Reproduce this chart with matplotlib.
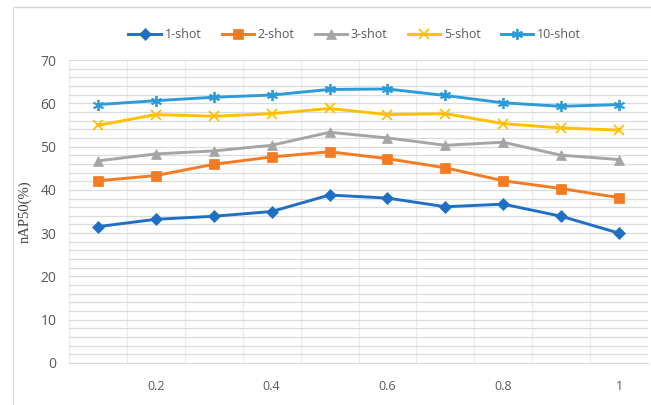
import numpy as np
import matplotlib.pyplot as plt
from matplotlib.patches import Rectangle
from matplotlib.ticker import MultipleLocator

ratios = ["0.1", "0.2", "0.3", "0.4", "0.5", "0.6", "0.7", "0.8", "0.9", "1"]
shot_1 = [31.5, 33.2, 33.9, 35.0, 38.8, 38.1, 36.1, 36.7, 33.9, 30.0]
shot_2 = [42.1, 43.3, 45.9, 47.6, 48.8, 47.2, 45.1, 42.1, 40.3, 38.2]
shot_3 = [46.7, 48.3, 49.0, 50.3, 53.3, 52.0, 50.3, 51.0, 48.0, 47.0]
shot_5 = [54.9, 57.4, 57.0, 57.6, 58.8, 57.4, 57.6, 55.3, 54.3, 53.8]
shot_10 = [59.7, 60.6, 61.4, 61.9, 63.2, 63.3, 61.8, 60.1, 59.3, 59.7]

series = [
    ("1-shot", shot_1, "#1F70C4", "D", 6),
    ("2-shot", shot_2, "#F47B22", "s", 7),
    ("3-shot", shot_3, "#A5A5A5", "^", 7),
    ("5-shot", shot_5, "#FFC000", "x", 7),
    ("10-shot", shot_10, "#2E9BD9", (6, 2, 0), 8),
]

fig = plt.figure(figsize=(6.51, 4.05), dpi=100)
fig.patches.append(Rectangle((13 / 651, -0.05), 1.0, 1 - 7 / 405 + 0.05,
                             transform=fig.transFigure, fill=False,
                             edgecolor="#D9D9D9", linewidth=1.0))
ax = fig.add_axes([69 / 651, 42 / 405, 579 / 651, 303 / 405])

x = np.arange(len(ratios))
for name, vals, col, mk, ms in series:
    ax.plot(x, vals, color=col, linewidth=2.1, marker=mk, markersize=ms,
            markeredgewidth=1.3 if mk in ("x", (6, 2, 0)) else 0.5,
            markeredgecolor=col, label=name, zorder=3)

ax.set_xlim(-0.5, len(ratios) - 0.5)
ax.set_ylim(0, 70)
ax.yaxis.set_major_locator(MultipleLocator(10))
ax.yaxis.set_minor_locator(MultipleLocator(2))
ax.set_xticks(x[1::2])
ax.set_xticklabels(ratios[1::2])
ax.set_xticks(np.arange(-0.5, len(ratios)), minor=True)

ax.grid(axis="y", which="both", color="#DCDCDC", linewidth=0.9)
ax.grid(axis="x", which="minor", color="#EBEBEB", linewidth=0.9)
ax.set_axisbelow(True)
for s in ["top", "right", "left"]:
    ax.spines[s].set_visible(False)
ax.spines["bottom"].set_color("#D9D9D9")
ax.tick_params(which="both", length=0)
ax.tick_params(axis="y", labelsize=10, labelcolor="#595959", pad=9)
ax.tick_params(axis="x", labelsize=9, labelcolor="#595959", pad=12)
for lab in ax.get_xticklabels() + ax.get_yticklabels():
    lab.set_fontfamily("Open Sans")

ax.set_ylabel("nAP50(%)", fontfamily="Liberation Serif", fontsize=10.5,
              color="#404040", labelpad=6)

leg = fig.legend(loc="center", bbox_to_anchor=(0.545, 1 - 35 / 405), ncol=5,
                 frameon=False, handlelength=2.6, columnspacing=1.6,
                 handletextpad=0.3, prop={"family": "Open Sans", "size": 9})
for t in leg.get_texts():
    t.set_color("#595959")

fig.savefig("out.png", dpi=100)
